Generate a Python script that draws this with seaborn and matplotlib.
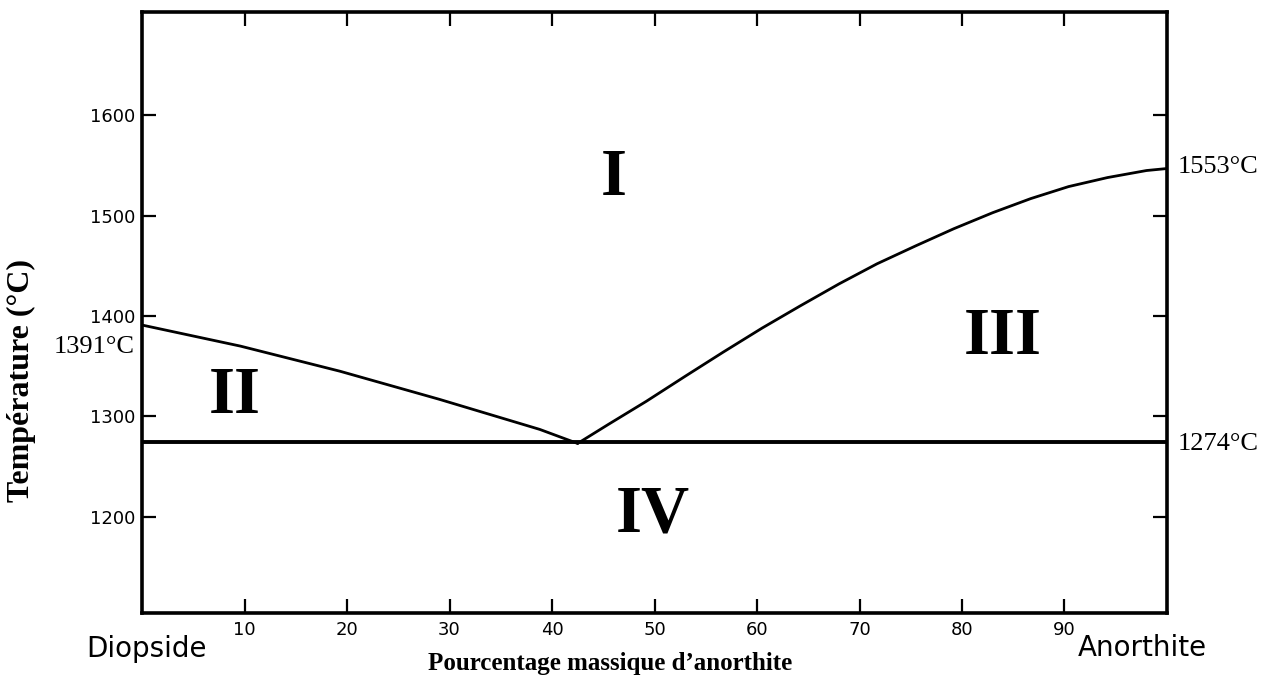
import numpy as np
import pandas as pd
import matplotlib
matplotlib.use("Agg")
import matplotlib.pyplot as plt
import seaborn as sns

# liquidus (% anorthite, temperature in C)
left_x = [0, 9.6, 19.3, 29, 38.8, 42.5]
left_t = [1391, 1370, 1345, 1317, 1287, 1273]
right_x = [42.5, 45.5, 49.2, 53, 56.7, 60.5, 64.2, 68, 71.7, 75.5, 79.2,
           83, 86.7, 90.4, 94.2, 98, 100]
right_t = [1273, 1292, 1315, 1340, 1364, 1388, 1410, 1432, 1452, 1470, 1487,
           1503, 1517, 1529, 1538, 1545, 1547]
eut_x = [0, 100]
eut_t = [1274, 1274]

x_ticks = [10, 20, 30, 40, 50, 60, 70, 80, 90]
y_ticks = [1200, 1300, 1400, 1500, 1600]
regions = ["I", "II", "III", "IV"]
region_x = [46, 9, 84, 49.8]
region_t = [1537, 1320, 1379, 1202]

sns.set_style("ticks")
plt.rcParams['font.family'] = ['DejaVu Sans']
plt.rcParams['text.color'] = 'black'
plt.rcParams['xtick.color'] = 'black'
plt.rcParams['ytick.color'] = 'black'

fig = plt.figure(figsize=(12.74, 6.86), dpi=100)
ax = fig.add_axes([0.1115, 0.1064, 0.916 - 0.1115, 0.9825 - 0.1064])

df_l = pd.DataFrame({"x": left_x, "t": left_t})
df_r = pd.DataFrame({"x": right_x, "t": right_t})
df_e = pd.DataFrame({"x": eut_x, "t": eut_t})
sns.lineplot(data=df_l, x="x", y="t", color="black", linewidth=2, ax=ax)
sns.lineplot(data=df_r, x="x", y="t", color="black", linewidth=2, ax=ax)
sns.lineplot(data=df_e, x="x", y="t", color="black", linewidth=2.8, ax=ax)

ax.set_xlim(0, 100)
ax.set_ylim(1104, 1703)
ax.set_xticks(x_ticks)
ax.set_yticks(y_ticks)
ax.tick_params(direction="in", length=10, width=1.6, labelsize=13,
               top=True, right=True, pad=6, colors="black")
ax.tick_params(axis="y", labelright=False, pad=5)
for s in ax.spines.values():
    s.set_visible(True)
    s.set_linewidth(2.6)
    s.set_color("black")
ax.set_xlabel("")
ax.set_ylabel("")

serif = ["Liberation Serif", "DejaVu Serif"]
for lab, x, t in zip(regions, region_x, region_t):
    ax.text(x, t, lab, ha="center", va="center", fontsize=48,
            fontweight="bold", family=serif, color="black")

ax.text(-0.7, 1369, "1391°C", ha="right", va="center", fontsize=19,
        family=serif, color="black", clip_on=False)
ax.text(1.01, 1549, "1553°C", ha="left", va="center", fontsize=19,
        family=serif, color="black", clip_on=False,
        transform=ax.get_yaxis_transform())
ax.text(1.01, 1272, "1274°C", ha="left", va="center", fontsize=19,
        family=serif, color="black", clip_on=False,
        transform=ax.get_yaxis_transform())

fig.text(0.1146, 0.054, "Diopside", ha="center", va="center", fontsize=20)
fig.text(0.897, 0.055, "Anorthite", ha="center", va="center", fontsize=20)
fig.text(0.479, 0.033, "Pourcentage massique d\u2019anorthite", ha="center",
         va="center", fontsize=18, fontweight="bold", family=serif)
fig.text(0.0165, 0.446, "Température (°C)", ha="center", va="center",
         rotation=90, fontsize=23, fontweight="bold", family=serif)

fig.savefig("out.png", dpi=100)
